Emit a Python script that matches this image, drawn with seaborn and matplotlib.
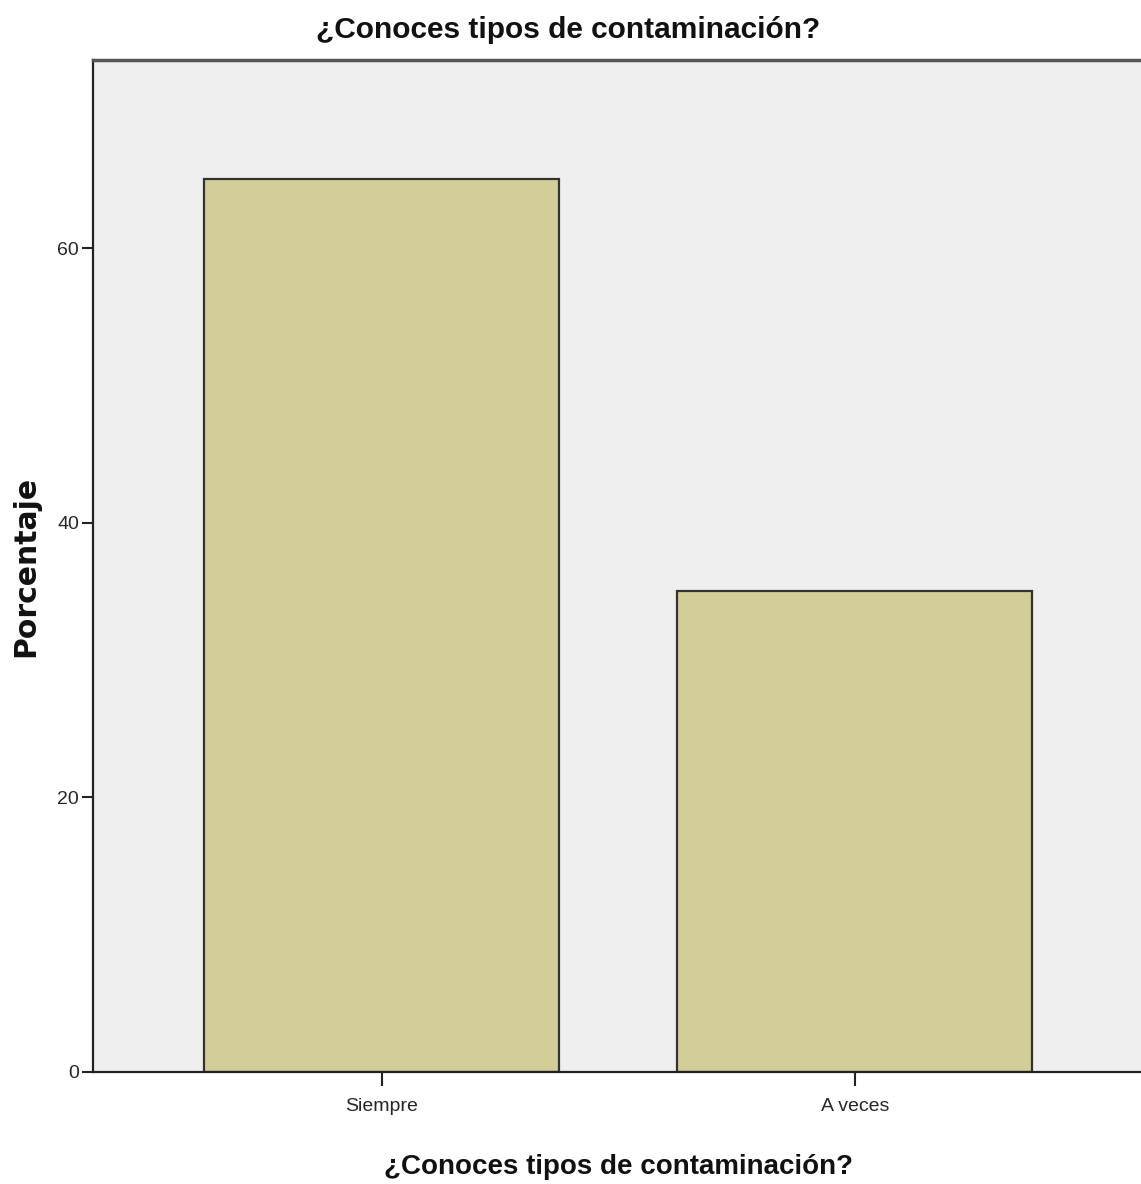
import pandas as pd
import matplotlib.pyplot as plt
import seaborn as sns

# data
categorias = ["Siempre", "A veces"]
porcentajes = [65.0, 35.0]
y_ticks = [0, 20, 40, 60]

df = pd.DataFrame({"respuesta": categorias, "porcentaje": porcentajes})

sns.set_style("white")
arial = ["Liberation Sans", "DejaVu Sans"]

fig = plt.figure(figsize=(11.41, 11.84), dpi=100)
ax = fig.add_axes([93 / 1141, 112 / 1184, 1 - 93 / 1141 + 0.002, 1012 / 1184])
ax.set_facecolor("#EFEFEF")

sns.barplot(data=df, x="respuesta", y="porcentaje", color="#D3CE97",
            width=0.75, edgecolor="#333333", linewidth=1.6, saturation=1, ax=ax)

ax.set_xlim(-0.61, 1.61)
ax.set_ylim(0, 73.7)
ax.set_yticks(y_ticks)
ax.set_yticklabels([str(t) for t in y_ticks], family=arial, fontsize=14)
ax.set_xticks(range(len(categorias)))
ax.set_xticklabels(categorias, family=arial, fontsize=14)
ax.tick_params(axis="y", direction="out", length=8, width=1.5, color="#222222", pad=2, left=True)
ax.tick_params(axis="x", direction="out", length=10, width=1.5, color="#222222", pad=9, bottom=True)

for side in ["left", "bottom"]:
    ax.spines[side].set_color("#222222")
    ax.spines[side].set_linewidth(1.6)
ax.spines["top"].set_color("#555555")
ax.spines["top"].set_linewidth(2.5)
ax.spines["right"].set_visible(False)

ax.set_xlabel("¿Conoces tipos de contaminación?", family=arial, fontsize=20,
              fontweight="bold", labelpad=28, color="#111111")
ax.set_ylabel("Porcentaje", fontsize=21.5, fontweight="bold", labelpad=12, color="#111111")

fig.text(568 / 1141, 1 - 30 / 1184, "¿Conoces tipos de contaminación?", family=arial,
         fontsize=21.5, fontweight="bold", ha="center", va="center", color="#111111")

fig.savefig("out.png", dpi=100)
plt.close()
